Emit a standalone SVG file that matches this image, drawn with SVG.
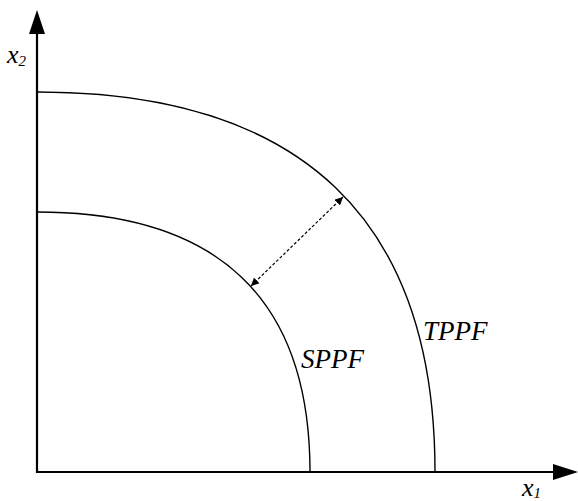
<svg xmlns="http://www.w3.org/2000/svg" width="578" height="501" viewBox="0 0 578 501">
<style>
.axis{stroke:#000;stroke-width:2.2;fill:none}
.curve{stroke:#000;stroke-width:1.4;fill:none}
.dash{stroke:#000;stroke-width:1.2;fill:none;stroke-dasharray:3,2}
.lbl{font-family:"Liberation Serif","Times New Roman",serif;font-style:italic;fill:#000}
</style>
<defs>
<marker id="ah" viewBox="0 0 10 10" refX="10" refY="5" markerWidth="8" markerHeight="8" markerUnits="userSpaceOnUse" orient="auto-start-reverse">
<path d="M0,0 L10,5 L0,10 Z" fill="#000"/>
</marker>
</defs>
<g id="axes">
<line class="axis" x1="37" y1="473" x2="37" y2="30"/>
<path d="M37,10 L45,34 L29,34 Z" fill="#000"/>
<line class="axis" x1="36" y1="472" x2="556" y2="472"/>
<path d="M578,472 L553,464 L553,480 Z" fill="#000"/>
</g>
<g id="TPPF">
<path class="curve" d="M37,92 C301.5,92 435,219.5 435,472"/>
<text class="lbl" x="423" y="340" font-size="27">TPPF</text>
</g>
<g id="SPPF">
<path class="curve" d="M37,212 C218.4,212 310,299.2 310,472"/>
<text class="lbl" x="301" y="368" font-size="27">SPPF</text>
</g>
<g id="connectors">
<line class="dash" x1="251" y1="286" x2="343" y2="197" marker-start="url(#ah)" marker-end="url(#ah)"/>
</g>
<g id="labels">
<text class="lbl" x="7" y="63" font-size="26">x<tspan font-size="15" dy="3">2</tspan></text>
<text class="lbl" x="522" y="496" font-size="26">x<tspan font-size="15" dy="2">1</tspan></text>
</g>
</svg>
